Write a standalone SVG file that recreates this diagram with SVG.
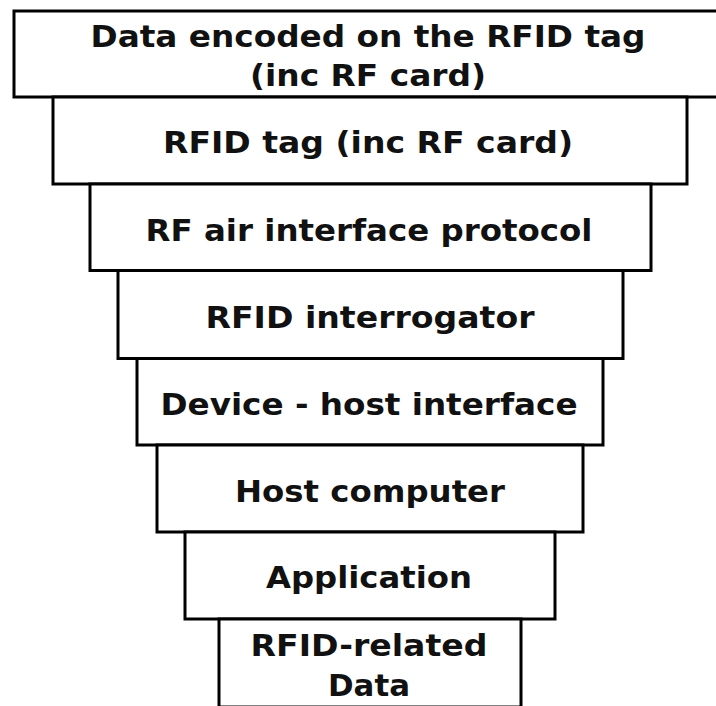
<svg xmlns="http://www.w3.org/2000/svg" width="716" height="706" viewBox="0 0 716 706">
<style>
.box{fill:#ffffff;stroke:#000000;stroke-width:3}
.t{font-family:"DejaVu Sans","Verdana",sans-serif;font-weight:bold;font-size:30px;fill:#111111;text-anchor:middle}
</style>
<rect x="0" y="0" width="716" height="706" fill="#ffffff"/>
<g id="node-data-encoded">
<rect class="box" x="14" y="11" width="712" height="86"/>
<text class="t" x="368" y="47" textLength="555" lengthAdjust="spacingAndGlyphs">Data encoded on the RFID tag</text>
<text class="t" x="368" y="86" textLength="236" lengthAdjust="spacingAndGlyphs">(inc RF card)</text>
</g>
<g id="node-rfid-tag">
<rect class="box" x="53" y="97" width="634" height="87"/>
<text class="t" x="368" y="153" textLength="410" lengthAdjust="spacingAndGlyphs">RFID tag (inc RF card)</text>
</g>
<g id="node-air-interface">
<rect class="box" x="90" y="184" width="561" height="86.5"/>
<text class="t" x="369" y="241" textLength="447" lengthAdjust="spacingAndGlyphs">RF air interface protocol</text>
</g>
<g id="node-interrogator">
<rect class="box" x="118" y="270.5" width="505" height="88"/>
<text class="t" x="370" y="328" textLength="329" lengthAdjust="spacingAndGlyphs">RFID interrogator</text>
</g>
<g id="node-device-host">
<rect class="box" x="137" y="358.5" width="466" height="86.5"/>
<text class="t" x="369" y="415" textLength="417" lengthAdjust="spacingAndGlyphs">Device - host interface</text>
</g>
<g id="node-host-computer">
<rect class="box" x="157" y="445" width="426" height="87"/>
<text class="t" x="370" y="502" textLength="270" lengthAdjust="spacingAndGlyphs">Host computer</text>
</g>
<g id="node-application">
<rect class="box" x="185" y="532" width="370" height="87"/>
<text class="t" x="369" y="588" textLength="206" lengthAdjust="spacingAndGlyphs">Application</text>
</g>
<g id="node-rfid-data">
<rect class="box" x="219" y="619" width="302" height="88"/>
<text class="t" x="369" y="656" textLength="237" lengthAdjust="spacingAndGlyphs">RFID-related</text>
<text class="t" x="369" y="696" textLength="82" lengthAdjust="spacingAndGlyphs">Data</text>
</g>
</svg>
